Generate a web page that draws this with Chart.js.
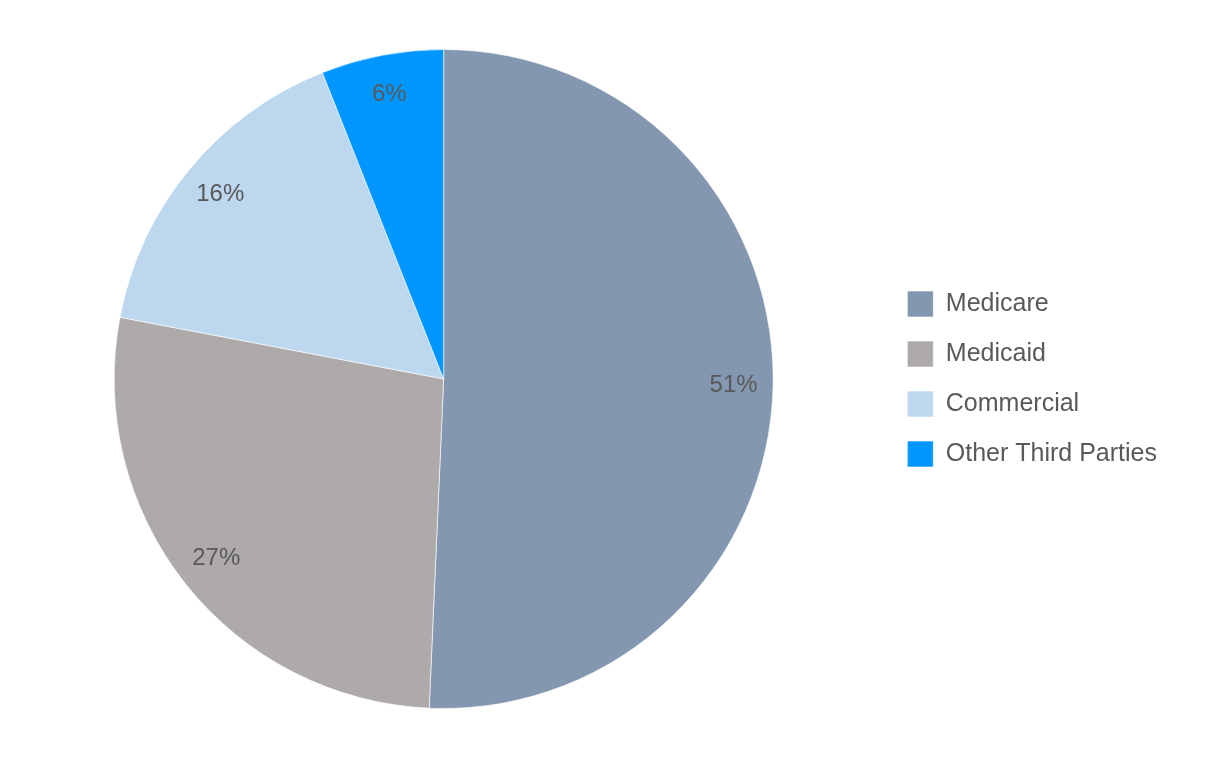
<!DOCTYPE html>
<html>
<head>
<meta charset="utf-8">
<script src="https://cdn.jsdelivr.net/npm/chart.js@4/dist/chart.umd.min.js"></script>
<style>
  html, body { margin: 0; padding: 0; background: #fff; }
  #wrap { width: 1226px; height: 760px; }
</style>
</head>
<body>
<div id="wrap"><canvas id="pie-chart"></canvas></div>
<script>
// Data til grafen
var categories = ["Medicare", "Medicaid", "Commercial", "Other Third Parties"];
var shares = [50.7, 27.3, 16, 6];
var sliceColors = ["#8497B0", "#AEAAAA", "#BDD7EE", "#0096FF"];

// Tegner procent-tallene inde i hvert stykke
var sliceLabels = {
    id: 'sliceLabels',
    afterDatasetsDraw: function (chart) {
        var ctx = chart.ctx;
        var meta = chart.getDatasetMeta(0);
        ctx.save();
        ctx.font = '24px "Liberation Sans", Arial, sans-serif';
        ctx.fillStyle = '#595959';
        ctx.textAlign = 'center';
        ctx.textBaseline = 'middle';
        meta.data.forEach(function (arc, i) {
            var mid = (arc.startAngle + arc.endAngle) / 2;
            var r = arc.outerRadius * 0.88;
            var x = arc.x + Math.cos(mid) * r;
            var y = arc.y + Math.sin(mid) * r;
            ctx.fillText(Math.round(shares[i]) + '%', x, y);
        });
        ctx.restore();
    }
};

var ctx = document.getElementById('pie-chart').getContext('2d');
var myPieChart = new Chart(ctx, {
    type: 'pie',
    data: {
        labels: categories,
        datasets: [{
            data: shares,
            backgroundColor: sliceColors,
            borderColor: 'rgba(255,255,255,0.6)',
            borderWidth: 1
        }]
    },
    options: {
        responsive: true,
        maintainAspectRatio: false,
        animation: false,
        layout: {
            padding: { top: 49, bottom: 51, left: 4, right: 59 }
        },
        plugins: {
            tooltip: { enabled: false },
            legend: {
                position: 'right',
                labels: {
                    boxWidth: 26,
                    boxHeight: 26,
                    padding: 24,
                    color: '#595959',
                    font: { size: 25, family: '"Liberation Sans", Arial, sans-serif' }
                }
            }
        }
    },
    plugins: [sliceLabels]
});
</script>
</body>
</html>
